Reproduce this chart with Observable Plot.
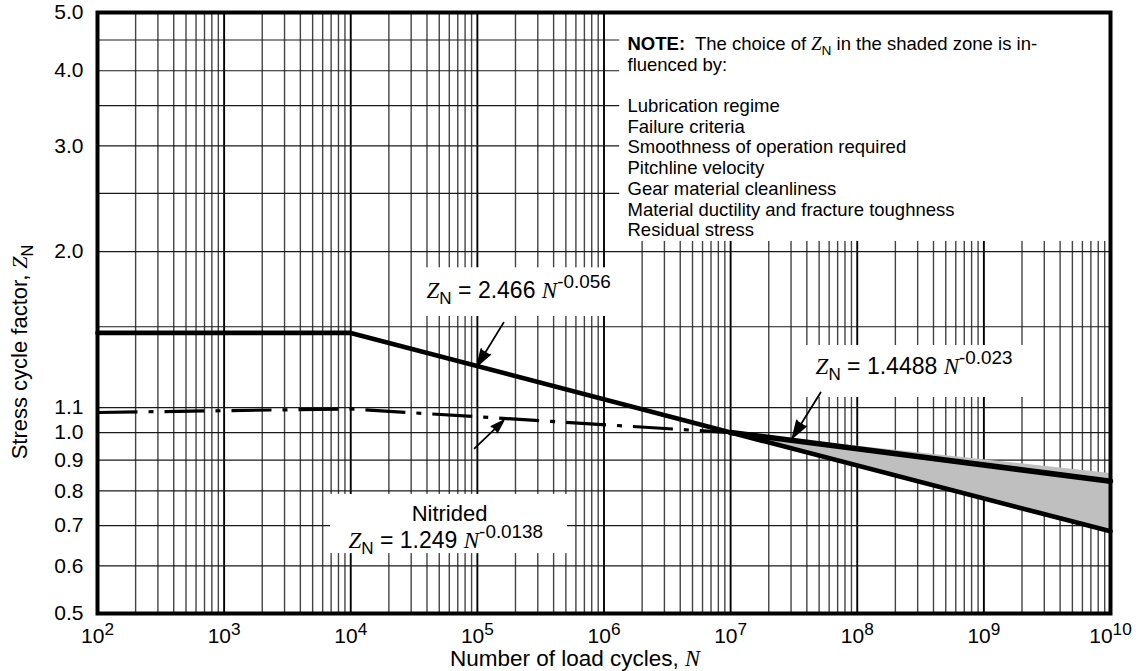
<!DOCTYPE html>
<html>
<head>
<meta charset="utf-8">
<script src="https://cdn.jsdelivr.net/npm/d3@7"></script>
<script src="https://cdn.jsdelivr.net/npm/@observablehq/plot@0.6"></script>
<style>
  html, body { margin: 0; padding: 0; background: #fff; }
  svg text { white-space: pre; }
</style>
</head>
<body>
<script>
// ---------- data ----------
const xDecades = [1e2, 1e3, 1e4, 1e5, 1e6, 1e7, 1e8, 1e9, 1e10];
const xMantissas = [2, 3, 4, 5, 6, 7, 8, 9];
const yTickValues = [0.5, 0.6, 0.7, 0.8, 0.9, 1.0, 1.1, 2.0, 3.0, 4.0, 5.0];
const yGridValues = [0.5, 0.6, 0.7, 0.8, 0.9, 1.0, 1.1, 1.5, 2.0, 2.5, 3.0, 3.5, 4.0, 4.5, 5.0];

// Z_N = 2.466 N^-0.056 (through-hardened), flat to 1e4
const mainN = [1e2, 1e4, 1e7, 1e10];
const mainZ = [1.465, 1.465, 1.0, 0.685];
// Nitrided Z_N = 1.249 N^-0.0138
const nitridedN = [1e2, 1e4, 1e7];
const nitridedZ = [1.08, 1.095, 1.0];
// Z_N = 1.4488 N^-0.023 (upper edge of shaded zone)
const upperN = [1e7, 1e10];
const upperZ = [1.0, 0.83];
// shaded zone
const zoneN = [1e7, 1e10];
const zoneLow = [1.0, 0.685];
const zoneHigh = [1.0, 0.855];

// annotation arrows
const arrowFromN = [1.61e5, 9.5e4, 5.14e7];
const arrowFromZ = [1.524, 0.941, 1.166];
const arrowToN = [1.0e5, 1.61e5, 3.09e7];
const arrowToZ = [1.293, 1.047, 0.981];

// white label boxes behind the texts
const boxN1 = [1.33e6, 3.25e4, 3.57e7, 6.92e3];
const boxN2 = [1e10, 1.33e6, 2.43e9, 5.15e5];
const boxZ1 = [2.08, 1.56, 1.144, 0.629];
const boxZ2 = [5.0, 1.88, 1.396, 0.789];

// formula labels
const labelText = [
  "{i|Z}{_|N} = 2.466 {i|N}{^|-0.056}",
  "{i|Z}{_|N} = 1.4488 {i|N}{^|-0.023}",
  "{i|Z}{_|N} = 1.249 {i|N}{^|-0.0138}"
];
const labelN = [3.97e4, 4.69e7, 9.6e3];
const labelZ = [1.724, 1.288, 0.6615];
const nitridedLabel = ["Nitrided"];
const nitridedLabelN = [6.03e4];
const nitridedLabelZ = [0.733];

const noteLines = [
  "{b|NOTE:}  The choice of {i|Z}{_|N} in the shaded zone is in-",
  "fluenced by:",
  "",
  "Lubrication regime",
  "Failure criteria",
  "Smoothness of operation required",
  "Pitchline velocity",
  "Gear material cleanliness",
  "Material ductility and fracture toughness",
  "Residual stress"
];

const xTitle = ["Number of load cycles, {i|N}"];
const yTitle = ["Stress cycle factor, {i|Z}{_|N}"];

// ---------- derived ----------
const xMinor = xDecades.slice(0, -1).flatMap(d => xMantissas.map(m => m * d));

const chart = Plot.plot({
  width: 1136,
  height: 671,
  marginLeft: 97,
  marginRight: 26,
  marginTop: 12,
  marginBottom: 58,
  x: {type: "log", domain: [1e2, 1e10]},
  y: {type: "log", domain: [0.5, 5]},
  style: {
    fontFamily: "'Liberation Sans', Arial, Helvetica, sans-serif",
    fontSize: "18px",
    color: "#000",
    background: "#fff"
  },
  marks: [
    Plot.ruleX(xMinor, {stroke: "#444", strokeWidth: 1.4}),
    Plot.ruleX(xDecades, {stroke: "#000", strokeWidth: 1.9}),
    Plot.ruleY(yGridValues, {stroke: "#1a1a1a", strokeWidth: 1.2}),
    Plot.rect(boxN1, {x1: boxN1, x2: boxN2, y1: boxZ1, y2: boxZ2, fill: "#fff"}),
    Plot.areaY(zoneN, {x: zoneN, y1: zoneLow, y2: zoneHigh, fill: "#bfbfbf"}),
    Plot.line(nitridedN, {x: nitridedN, y: nitridedZ, stroke: "#000", strokeWidth: 3.2,
      strokeDasharray: "40,11,5,11", strokeLinecap: "butt"}),
    Plot.line(mainN, {x: mainN, y: mainZ, stroke: "#000", strokeWidth: 4.6, strokeLinejoin: "miter"}),
    Plot.line(upperN, {x: upperN, y: upperZ, stroke: "#000", strokeWidth: 5.5}),
    Plot.arrow(arrowFromN, {x1: arrowFromN, y1: arrowFromZ, x2: arrowToN, y2: arrowToZ,
      stroke: "#000", fill: "#000", strokeWidth: 1.8, headLength: 17, headAngle: 36}),
    Plot.frame({stroke: "#000", strokeWidth: 4}),
    Plot.axisX({ticks: xDecades, tickFormat: d => `10{^|${Math.round(Math.log10(d))}}`,
      tickSize: 0, tickPadding: 15, fontSize: 21, label: null}),
    Plot.axisY({ticks: yTickValues, tickFormat: d3.format(".1f"),
      tickSize: 0, tickPadding: 14, fontSize: 21, label: null}),
    Plot.text(labelText, {x: labelN, y: labelZ, text: d => d, textAnchor: "start",
      lineAnchor: "middle", fontSize: 23}),
    Plot.text(nitridedLabel, {x: nitridedLabelN, y: nitridedLabelZ, text: d => d,
      lineAnchor: "middle", fontSize: 22}),
    ...noteLines.map((line, i) => Plot.text([line], {
      text: d => d, frameAnchor: "top-left", textAnchor: "start", lineAnchor: "middle",
      dx: 530, dy: 31.5 + i * 20.7, fontSize: 18.5
    })),
    Plot.text(xTitle, {text: d => d, frameAnchor: "bottom", textAnchor: "middle",
      lineAnchor: "middle", dx: -29, dy: 45, fontSize: 22.5}),
    Plot.text(yTitle, {text: d => d, frameAnchor: "left", textAnchor: "middle",
      lineAnchor: "middle", rotate: -90, dx: -78, dy: 39, fontSize: 22})
  ]
});

document.body.appendChild(chart);

// ---------- rich text: italic, sub/superscripts, bold ----------
const NS = "http://www.w3.org/2000/svg";
chart.querySelectorAll("text, tspan").forEach(el => {
  if (el.children.length) return;
  const s = el.textContent;
  if (!s.includes("{")) return;
  const fs = parseFloat(getComputedStyle(el).fontSize) || 18;
  el.textContent = "";
  let cur = 0, last = 0, m;
  const re = /\{([i_^b])\|([^}]*)\}/g;
  const add = (txt, kind) => {
    if (!txt) return;
    const t = document.createElementNS(NS, "tspan");
    let shift = 0;
    if (kind === "_") { shift = 0.28 * fs; t.setAttribute("font-size", (0.74 * fs) + "px"); }
    else if (kind === "^") { shift = -0.42 * fs; t.setAttribute("font-size", (0.82 * fs) + "px"); }
    else if (kind === "i") {
      t.setAttribute("font-family", "'Liberation Serif', 'Times New Roman', serif");
      t.setAttribute("font-style", "italic");
    } else if (kind === "b") t.setAttribute("font-weight", "bold");
    if (shift !== cur) { t.setAttribute("dy", (shift - cur) + "px"); cur = shift; }
    t.textContent = txt;
    el.appendChild(t);
  };
  while ((m = re.exec(s))) { add(s.slice(last, m.index), ""); add(m[2], m[1]); last = re.lastIndex; }
  add(s.slice(last), "");
});
</script>
</body>
</html>
